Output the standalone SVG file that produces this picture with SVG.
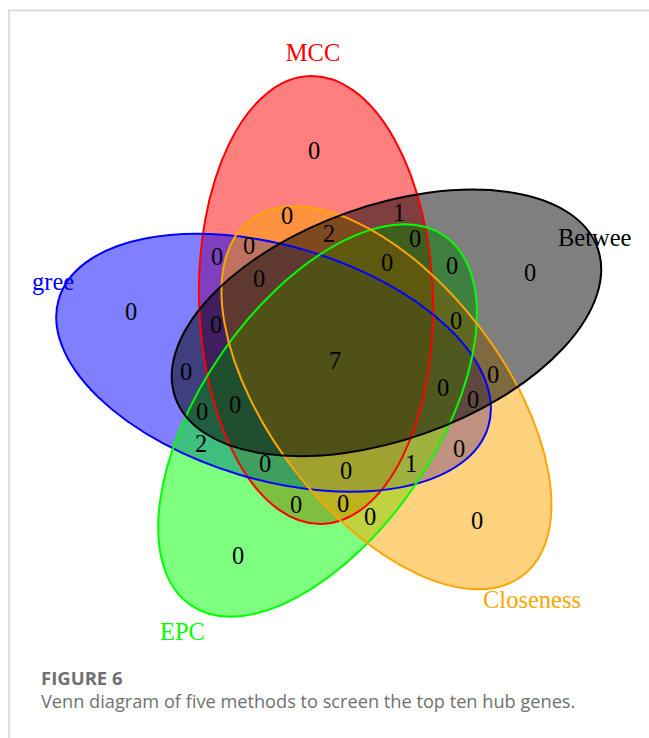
<svg xmlns="http://www.w3.org/2000/svg" xmlns:xlink="http://www.w3.org/1999/xlink" width="649" height="738" viewBox="0 0 649 738">
<style>
.set{stroke:none;fill-opacity:0.5}
.ol{fill:none;stroke-width:2}
.n{font-family:"Liberation Serif","Times New Roman",serif;font-size:24.5px;fill:#000;text-anchor:middle}
.lab{font-family:"Liberation Serif","Times New Roman",serif;font-size:24.5px}
.cap{font-family:"Open Sans","Noto Sans",sans-serif;fill:#707070}
</style>
<defs>
<ellipse id="shape" cx="316" cy="300" rx="117" ry="224" transform="rotate(-1.5 316 300)"/>
</defs>
<rect x="0" y="0" width="649" height="738" fill="#fff"/>
<g id="frame" stroke="#d4d4d4" stroke-width="1.5" fill="none">
<line x1="8" y1="10.5" x2="649" y2="10.5"/>
<line x1="9" y1="10" x2="9" y2="738"/>
</g>
<g id="set-MCC"><use xlink:href="#shape" class="set" fill="#ff0000"/></g>
<g id="set-Degree"><use xlink:href="#shape" class="set" fill="#0000ff" transform="translate(2 0) rotate(288 337 362)"/></g>
<g id="set-EPC"><use xlink:href="#shape" class="set" fill="#00ff00" transform="translate(0 -4) rotate(216 337 362)"/></g>
<g id="set-Closeness"><use xlink:href="#shape" class="set" fill="#ffa500" transform="translate(-4 -2) rotate(144 337 362)"/></g>
<g id="set-Betweenness"><use xlink:href="#shape" class="set" fill="#000000" transform="translate(-3 0) rotate(72 337 362)"/></g>
<g id="outlines">
<use xlink:href="#shape" class="ol" stroke="#ff0000"/>
<use xlink:href="#shape" class="ol" stroke="#0000ff" transform="translate(2 0) rotate(288 337 362)"/>
<use xlink:href="#shape" class="ol" stroke="#00ff00" transform="translate(0 -4) rotate(216 337 362)"/>
<use xlink:href="#shape" class="ol" stroke="#ffa500" transform="translate(-4 -2) rotate(144 337 362)"/>
<use xlink:href="#shape" class="ol" stroke="#000000" transform="translate(-3 0) rotate(72 337 362)"/>
</g>
<g id="set-labels" class="lab">
<text x="313" y="61" text-anchor="middle" fill="#ff0000">MCC</text>
<text x="558" y="246" fill="#000000">Betwee</text>
<text x="32" y="290" fill="#0000ff">gree</text>
<text x="160" y="640" fill="#00ff00">EPC</text>
<text x="483" y="608" fill="#ffa500">Closeness</text>
</g>
<g id="counts" class="n">
<text x="314" y="158.5">0</text>
<text x="287" y="223.5">0</text>
<text x="399" y="220.5">1</text>
<text x="329" y="241.5">2</text>
<text x="415" y="246.5">0</text>
<text x="249" y="253.5">0</text>
<text x="217" y="264.5">0</text>
<text x="387" y="270.5">0</text>
<text x="452" y="273.5">0</text>
<text x="530" y="280.5">0</text>
<text x="131" y="319.5">0</text>
<text x="259" y="286.5">0</text>
<text x="216" y="332.5">0</text>
<text x="456" y="328.5">0</text>
<text x="335" y="368.5">7</text>
<text x="186" y="379.5">0</text>
<text x="443" y="395.5">0</text>
<text x="493" y="382.5">0</text>
<text x="202" y="419.5">0</text>
<text x="235" y="412.5">0</text>
<text x="473" y="407.5">0</text>
<text x="201" y="451.5">2</text>
<text x="459" y="456.5">0</text>
<text x="265" y="471.5">0</text>
<text x="346" y="478.5">0</text>
<text x="411" y="471.5">1</text>
<text x="477" y="528.5">0</text>
<text x="296" y="512.5">0</text>
<text x="343" y="511.5">0</text>
<text x="370" y="524.5">0</text>
<text x="238" y="563.5">0</text>
</g>
<g id="caption" class="cap">
<text x="41" y="685" font-size="18.5" font-weight="bold">FIGURE 6</text>
<text x="41" y="708" font-size="18.2">Venn diagram of five methods to screen the top ten hub genes.</text>
</g>
</svg>
